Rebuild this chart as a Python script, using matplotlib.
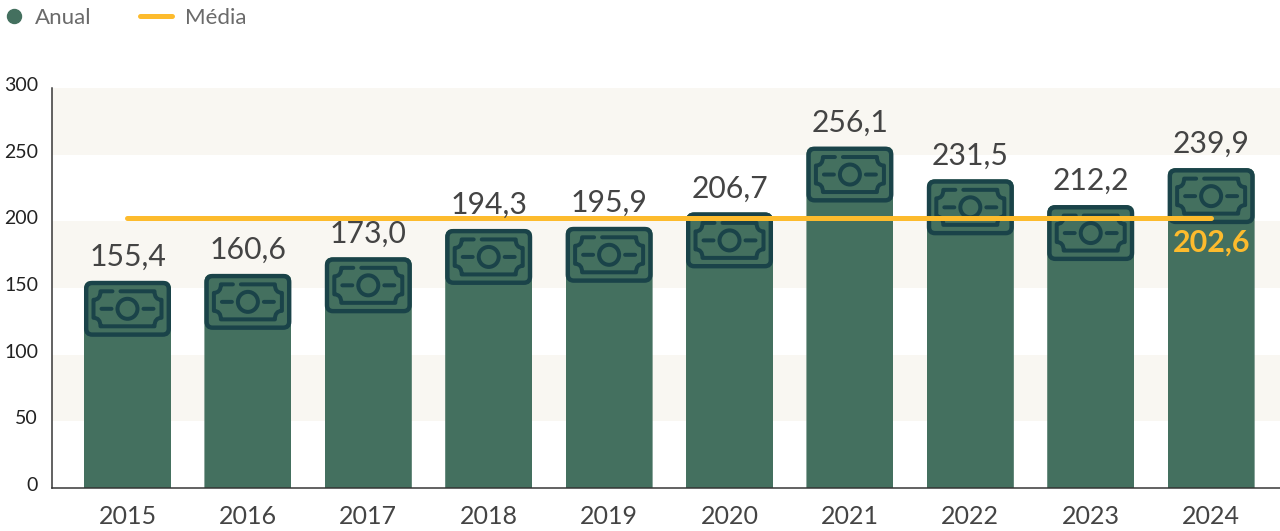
import matplotlib
matplotlib.use("Agg")
import matplotlib.pyplot as plt
from matplotlib.path import Path
from matplotlib.patches import PathPatch, FancyBboxPatch, Circle
from matplotlib.transforms import Affine2D, ScaledTranslation

years = ["2015", "2016", "2017", "2018", "2019", "2020", "2021", "2022", "2023", "2024"]
anual = [155.4, 160.6, 173.0, 194.3, 195.9, 206.7, 256.1, 231.5, 212.2, 239.9]
media = 202.6
yticks = [0, 50, 100, 150, 200, 250, 300]
bands = [(50, 100), (150, 200), (250, 300)]

GREEN = "#44705f"
DARK = "#1a4349"
YELLOW = "#fdbb2d"
BAND = "#f9f7f2"
TEXT = "#444444"

W, H = 1280, 531
plt.rcParams["font.family"] = ["Lato", "DejaVu Sans"]

fig = plt.figure(figsize=(W / 100, H / 100), dpi=100)
ax = fig.add_axes([52 / W, (H - 488) / H, (W - 52) / W, 400 / H])
ax.set_xlim(-0.627, 9.572)
ax.set_ylim(0, 300)

for lo, hi in bands:
    ax.axhspan(lo, hi, color=BAND, lw=0, zorder=0)

bars = ax.bar(range(len(anual)), anual, width=0.7226, color=GREEN, zorder=2)


def px_lw(px):
    return px * 72 / fig.dpi


def note_icon(i, v, bar):
    # icon hangs from the top of the bar, drawn in pixels around its centre
    tr = Affine2D().translate(0, -28) + ScaledTranslation(i, v, ax.transData)
    # round off the bar's top corners so they don't poke out behind the icon
    clip = FancyBboxPatch((-43.5, -600), 87, 628, boxstyle="round,pad=0,rounding_size=8", transform=tr)
    bar.set_clip_path(clip)
    ax.add_patch(FancyBboxPatch((-41.3, -25.8), 82.6, 51.6, boxstyle="round,pad=0,rounding_size=6",
                                fc=GREEN, ec=DARK, lw=px_lw(4.4), transform=tr, zorder=3))
    ax.add_patch(Circle((0, 0), 10, fc="none", ec=DARK, lw=px_lw(4), transform=tr, zorder=4))
    M, L, C = Path.MOVETO, Path.LINETO, Path.CURVE3
    verts = [(-7, 17.5), (27, 17.5), (27, 9), (34, 9), (34, -9), (27, -9), (27, -17.5),
             (-27, -17.5), (-27, -9), (-34, -9), (-34, 9), (-27, 9), (-27, 17.5), (-15, 17.5),
             (-26, 0), (-16, 0), (16, 0), (26, 0)]
    codes = [M, L, C, C, L, C, C, L, C, C, L, C, C, L, M, L, M, L]
    ax.add_patch(PathPatch(Path(verts, codes), fc="none", ec=DARK, lw=px_lw(4),
                           capstyle="round", joinstyle="round", transform=tr, zorder=4))


for i, v in enumerate(anual):
    note_icon(i, v, bars[i])
    ax.annotate(f"{v:.1f}".replace(".", ","), (i, v), xytext=(0, 10), textcoords="offset pixels",
                ha="center", va="bottom", fontsize=21.7, color=TEXT, zorder=6)

ax.plot([0, 9], [media, media], color=YELLOW, lw=px_lw(5), solid_capstyle="round", zorder=5)
ax.annotate(f"{media:.1f}".replace(".", ","), (9, media), xytext=(0, -25), textcoords="offset pixels",
            ha="center", va="center", fontsize=22, fontweight="bold", color=YELLOW, zorder=6)

for s in ["top", "right"]:
    ax.spines[s].set_visible(False)
for s in ["left", "bottom"]:
    ax.spines[s].set_color("#333333")
    ax.spines[s].set_linewidth(px_lw(1.5))

ax.set_xticks(range(len(years)), years)
ax.set_yticks(yticks)
ax.tick_params(axis="both", length=0)
ax.tick_params(axis="x", labelsize=18, labelcolor=TEXT, pad=12)
ax.tick_params(axis="y", labelsize=14, labelcolor="#222222", pad=10)
for lab in ax.get_yticklabels():
    lab.set_transform(lab.get_transform() + Affine2D().translate(0, 4))

# legend
fig.add_artist(plt.Line2D([14 / W], [(H - 16) / H], marker="o", ms=px_lw(14), color=GREEN, lw=0))
fig.add_artist(plt.Line2D([140 / W, 172 / W], [(H - 16) / H] * 2, color=YELLOW, lw=px_lw(5),
                          solid_capstyle="round"))
fig.text(35 / W, (H - 18) / H, "Anual", fontsize=16, color="#6a6a6a", va="center")
fig.text(185 / W, (H - 18) / H, "Média", fontsize=16, color="#6a6a6a", va="center")

fig.savefig("out.png", dpi=100)
